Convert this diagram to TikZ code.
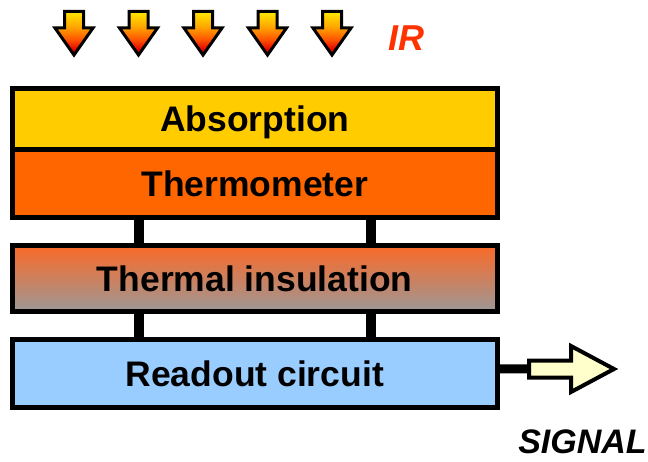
\documentclass[tikz,border=0pt]{standalone}
\usepackage{fontspec}
\setmainfont{Liberation Sans}
\usetikzlibrary{calc}
\definecolor{absorb}{HTML}{FFCC00}
\definecolor{thermo}{HTML}{FF6600}
\definecolor{insTop}{HTML}{FA6A28}
\definecolor{insBot}{HTML}{9C9898}
\definecolor{readout}{HTML}{99CCFF}
\definecolor{sigfill}{HTML}{FFFFCC}
\definecolor{irred}{HTML}{FF3300}
\definecolor{arTop}{HTML}{FFE800}
\definecolor{arA}{HTML}{FFA800}
\definecolor{arB}{HTML}{FF5500}
\definecolor{arC}{HTML}{E00000}
\definecolor{arBot}{HTML}{880000}
\pgfdeclareverticalshading{irshade}{100bp}{color(0bp)=(arBot); color(25bp)=(arBot);
  color(31bp)=(arC); color(43bp)=(arB); color(58bp)=(arA); color(75bp)=(arTop); color(100bp)=(arTop)}
\tikzset{
  layer/.style={draw=black, line width=5pt, rectangle, minimum width=485.5pt,
    inner sep=0pt, text height=25.4pt, text depth=0pt,
    font=\fontsize{35.5}{40}\selectfont\bfseries},
  post/.style={line width=10pt, draw=black},
  irarrow/.style={draw=black, line width=3pt, line join=miter, shading=irshade},
  sigarrow/.style={draw=black, line width=4pt, line join=miter, fill=sigfill},
  lbl/.style={anchor=base, inner sep=0pt, font=\bfseries\itshape}
}
\begin{document}
\begin{tikzpicture}[x=1pt, y=-1pt]
\useasboundingbox (0,0) rectangle (648,462);
% incoming IR arrows
\foreach \cx in {74,138.5,203,267.5,332}{
  \draw[irarrow] (\cx-9.5,11.5) -- (\cx+9.5,11.5) -- (\cx+9.5,28) -- (\cx+19,28)
    -- (\cx,55) -- (\cx-19,28) -- (\cx-9.5,28) -- cycle;
}
\node[lbl, text=irred, font=\fontsize{36}{40}\selectfont\bfseries\itshape] (ir) at (406.5,51) {IR};
% layers
\node[layer, fill=absorb, minimum height=61.5pt] (abs) at (254.75,119.25) {Absorption};
\node[layer, fill=thermo, minimum height=67.5pt] (therm) at (254.75,183.75) {Thermometer};
\node[layer, top color=insTop, bottom color=insBot, minimum height=66pt] (ins) at (254.75,279) {Thermal insulation};
\node[layer, fill=readout, minimum height=67.5pt] (read) at (254.75,373.75) {Readout circuit};
% support posts
\draw[post] ([xshift=-116pt]therm.south) -- ([xshift=-116pt]ins.north);
\draw[post] ([xshift=116pt]therm.south) -- ([xshift=116pt]ins.north);
\draw[post] ([xshift=-116pt]ins.south) -- ([xshift=-116pt]read.north);
\draw[post] ([xshift=116pt]ins.south) -- ([xshift=116pt]read.north);
% signal output
\coordinate (sigstart) at (529,369);
\draw[line width=9pt] ([yshift=5pt]read.east) -- (sigstart);
\draw[sigarrow] (sigstart) -- (529,360.5) -- (571,360.5) -- (571,346) -- (614,369)
  -- (571,392) -- (571,377.5) -- (529,377.5) -- cycle;
\node[lbl, font=\fontsize{34}{38}\selectfont\bfseries\itshape] (sig) at (582.5,453) {SIGNAL};
\end{tikzpicture}
\end{document}
